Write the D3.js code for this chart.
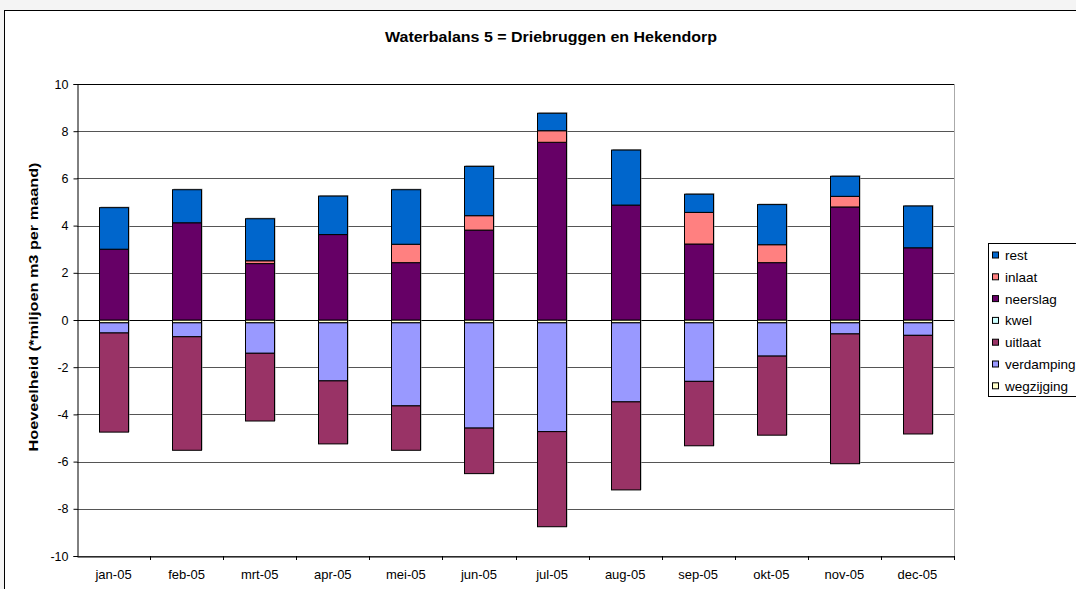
<!DOCTYPE html>
<html>
<head>
<meta charset="utf-8">
<script src="https://cdn.jsdelivr.net/npm/d3@7"></script>
<style>
  body { margin: 0; background: #f4f4f4; font-family: Arial, "Liberation Sans", sans-serif; }
  svg { display: block; }
</style>
</head>
<body>
<div id="chart"></div>
<script>
const months = ["jan-05", "feb-05", "mrt-05", "apr-05", "mei-05", "jun-05", "jul-05", "aug-05", "sep-05", "okt-05", "nov-05", "dec-05"];

// series values (miljoen m3 per maand)
const wegzijging = [-0.12, -0.12, -0.12, -0.12, -0.12, -0.12, -0.12, -0.12, -0.12, -0.12, -0.12, -0.12];
const verdamping = [-0.43, -0.59, -1.29, -2.46, -3.52, -4.46, -4.61, -3.35, -2.48, -1.41, -0.47, -0.53];
const uitlaat    = [-4.20, -4.81, -2.87, -2.67, -1.88, -1.93, -4.03, -3.73, -2.73, -3.35, -5.50, -4.18];
const kwel       = [0, 0, 0, 0, 0, 0, 0, 0, 0, 0, 0, 0];
const neerslag   = [3.00, 4.12, 2.39, 3.62, 2.43, 3.81, 7.53, 4.87, 3.22, 2.43, 4.79, 3.06];
const inlaat     = [0, 0, 0.12, 0, 0.78, 0.61, 0.49, 0, 1.34, 0.76, 0.45, 0];
const rest       = [1.76, 1.40, 1.78, 1.63, 2.31, 2.09, 0.74, 2.33, 0.77, 1.70, 0.85, 1.77];

const yTicks = [-10, -8, -6, -4, -2, 0, 2, 4, 6, 8, 10];

const seriesNames = ["wegzijging", "verdamping", "uitlaat", "kwel", "neerslag", "inlaat", "rest"];
const seriesData = { wegzijging, verdamping, uitlaat, kwel, neerslag, inlaat, rest };
const colors = {
  rest: "#0066CC", inlaat: "#FF8080", neerslag: "#660066", kwel: "#CCFFFF",
  uitlaat: "#993366", verdamping: "#9999FF", wegzijging: "#FFFFCC"
};

const rows = months.map((m, i) => {
  const r = { month: m };
  seriesNames.forEach(k => r[k] = seriesData[k][i]);
  return r;
});

const W = 1076, H = 589;
const margin = { left: 77, right: 122, top: 84, bottom: 33 };
const font = "Arial, 'Liberation Sans', sans-serif";

const svg = d3.select("#chart").append("svg")
  .attr("width", W).attr("height", H)
  .style("font-family", font);

// chart area frame
svg.append("rect")
  .attr("x", 4.5).attr("y", 10.5)
  .attr("width", W + 10).attr("height", H + 10)
  .attr("fill", "#fff").attr("stroke", "#000");

const x = d3.scaleBand().domain(months).range([margin.left, W - margin.right]).padding(0);
const y = d3.scaleLinear().domain([-10, 10]).range([H - margin.bottom, margin.top]);

// gridlines
svg.append("g").selectAll("line")
  .data(yTicks)
  .join("line")
  .attr("x1", margin.left).attr("x2", W - margin.right)
  .attr("y1", d => Math.round(y(d)) + 0.5).attr("y2", d => Math.round(y(d)) + 0.5)
  .attr("stroke", d => d === 10 || d === 0 ? "#000" : "#555")
  .attr("stroke-width", 1);

// plot area right border
svg.append("line")
  .attr("x1", W - margin.right + 0.5).attr("x2", W - margin.right + 0.5)
  .attr("y1", margin.top).attr("y2", H - margin.bottom)
  .attr("stroke", "#aaa");

const stack = d3.stack().keys(seriesNames).offset(d3.stackOffsetDiverging);
const stacked = stack(rows);

const barW = x.bandwidth() * 0.4;
const barX = m => Math.round(x(m) + (x.bandwidth() - barW) / 2) + 0.5;

// light shadow behind each column
svg.append("g").selectAll("rect")
  .data(rows)
  .join("rect")
  .attr("x", d => barX(d.month) + 1)
  .attr("width", Math.round(barW))
  .attr("y", d => y(d3.sum(seriesNames, k => Math.max(0, d[k]))) - 1)
  .attr("height", d => y(d3.sum(seriesNames, k => Math.min(0, d[k]))) - y(d3.sum(seriesNames, k => Math.max(0, d[k]))) + 1)
  .attr("fill", "#999");

svg.append("g").selectAll("g")
  .data(stacked)
  .join("g")
  .attr("fill", d => colors[d.key])
  .selectAll("rect")
  .data(d => d.filter(s => s[1] !== s[0]))
  .join("rect")
  .attr("x", d => barX(d.data.month))
  .attr("width", Math.round(barW))
  .attr("y", d => y(Math.max(d[0], d[1])))
  .attr("height", d => Math.abs(y(d[0]) - y(d[1])))
  .attr("stroke", "#000")
  .attr("stroke-width", 1);

// y axis
const yAxis = svg.append("g")
  .attr("transform", `translate(${margin.left + 0.5},0)`)
  .call(d3.axisLeft(y).tickValues(yTicks).tickFormat(d => String(d)).tickSize(4).tickPadding(5));
yAxis.select(".domain").attr("stroke", "#000");
yAxis.selectAll("text").attr("font-size", 12.5).attr("font-family", font).attr("fill", "#000");

// x axis
const xAxis = svg.append("g")
  .attr("transform", `translate(0,${H - margin.bottom + 0.5})`)
  .call(d3.axisBottom(x).tickSize(0).tickPadding(13));
xAxis.select(".domain").attr("stroke", "#000");
xAxis.selectAll("text").attr("font-size", 13).attr("font-family", font).attr("fill", "#000");
// tick marks between categories
svg.append("g").selectAll("line")
  .data(months)
  .join("line")
  .attr("x1", (d, i) => Math.round(margin.left + (i + 1) * x.bandwidth()) + 0.5)
  .attr("x2", (d, i) => Math.round(margin.left + (i + 1) * x.bandwidth()) + 0.5)
  .attr("y1", H - margin.bottom).attr("y2", H - margin.bottom + 4)
  .attr("stroke", "#000");

// title
svg.append("text")
  .attr("x", 551).attr("y", 42)
  .attr("text-anchor", "middle")
  .attr("font-size", 14).attr("font-weight", "bold")
  .attr("textLength", 332).attr("lengthAdjust", "spacingAndGlyphs")
  .text("Waterbalans 5 = Driebruggen en Hekendorp");

// y label
svg.append("text")
  .attr("transform", "translate(38,307) rotate(-90)")
  .attr("text-anchor", "middle")
  .attr("font-size", 13).attr("font-weight", "bold")
  .attr("textLength", 289).attr("lengthAdjust", "spacingAndGlyphs")
  .text("Hoeveelheid (*miljoen m3 per maand)");

// legend
const legendKeys = ["rest", "inlaat", "neerslag", "kwel", "uitlaat", "verdamping", "wegzijging"];
const legend = svg.append("g").attr("transform", "translate(988,243)");
legend.append("rect")
  .attr("x", 0.5).attr("y", 0.5).attr("width", 120).attr("height", 153)
  .attr("fill", "#fff").attr("stroke", "#000");
const item = legend.selectAll("g.item")
  .data(legendKeys)
  .join("g")
  .attr("class", "item")
  .attr("transform", (d, i) => `translate(0,${12.5 + i * 21.8})`);
item.append("rect")
  .attr("x", 4.5).attr("y", -3.5).attr("width", 6).attr("height", 6)
  .attr("fill", d => colors[d]).attr("stroke", "#000");
item.append("text")
  .attr("x", 17).attr("y", 4.5)
  .attr("font-size", 13.5)
  .text(d => d);
</script>
</body>
</html>
